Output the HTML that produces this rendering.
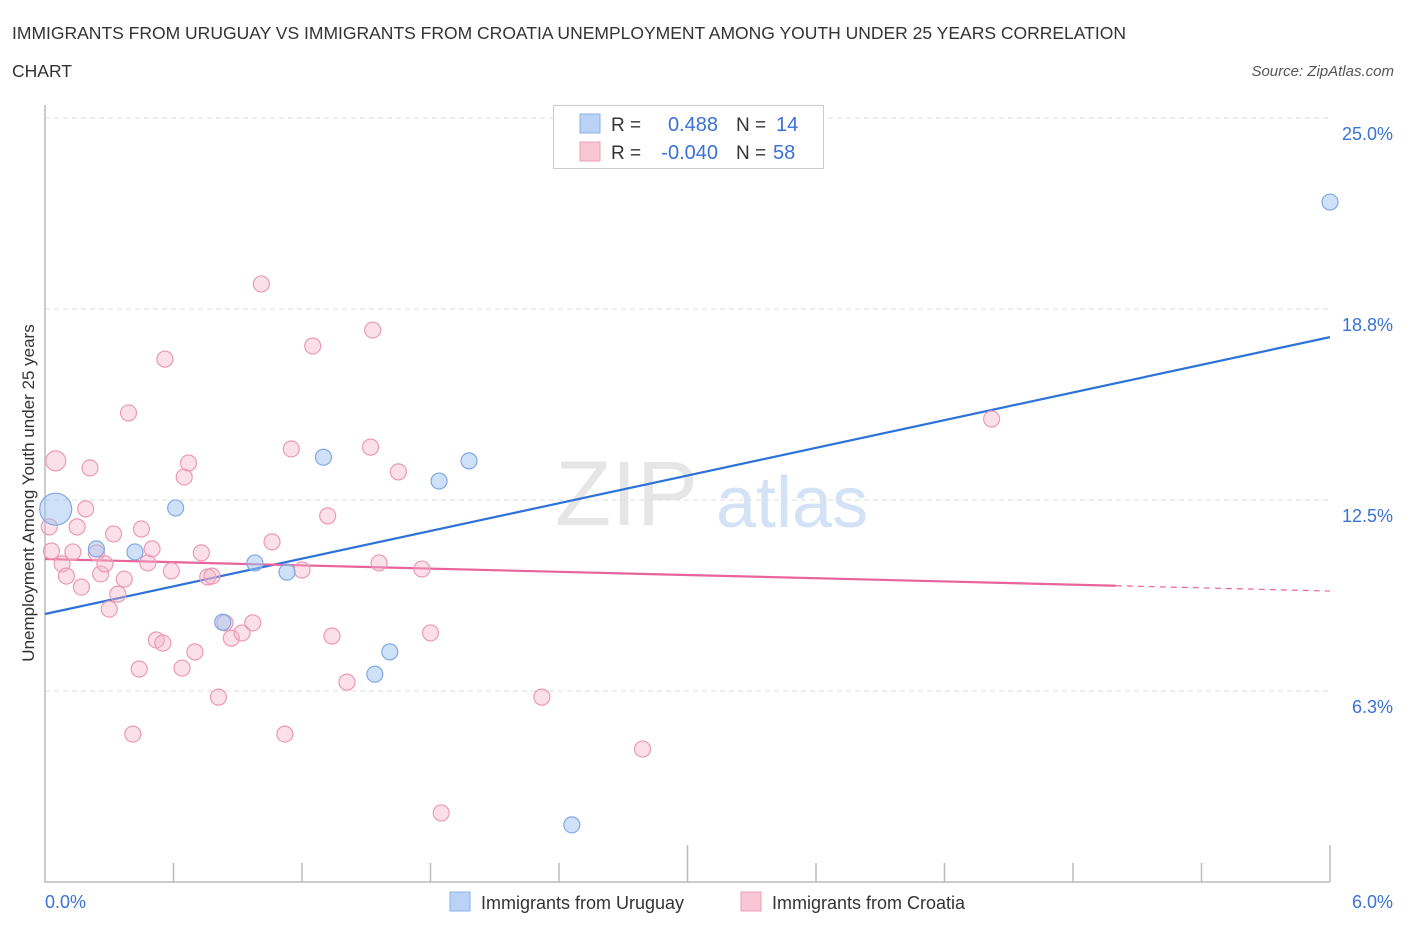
<!DOCTYPE html>
<html><head><meta charset="utf-8"><style>
body{margin:0;background:#fff;font-family:"Liberation Sans",sans-serif;}
svg text{font-family:"Liberation Sans",sans-serif;}
</style></head><body>
<svg id="chart" width="1406" height="930" viewBox="0 0 1406 930" xmlns="http://www.w3.org/2000/svg">
<text x="12" y="39" font-size="17.5" fill="#333">IMMIGRANTS FROM URUGUAY VS IMMIGRANTS FROM CROATIA UNEMPLOYMENT AMONG YOUTH UNDER 25 YEARS CORRELATION</text>
<text x="12" y="77" font-size="17.5" fill="#333">CHART</text>
<text x="1394" y="76" font-size="15" font-style="italic" fill="#555" text-anchor="end">Source: ZipAtlas.com</text>
<g>
<text x="555" y="525" font-size="92" font-family="Liberation Serif" fill="#e6e6e6">ZIP</text>
<text x="716" y="527" font-size="72" fill="#d4e2f5">atlas</text>
</g>
<g id="grid"></g>
<g id="axes"></g>
<g id="lines"></g>
<g id="points"></g>
<text transform="translate(34,493) rotate(-90)" font-size="17" fill="#333" text-anchor="middle">Unemployment Among Youth under 25 years</text>
<g>
<rect x="553.5" y="105.5" width="270" height="63" fill="#fff" stroke="#ccc"/>
<rect x="580" y="114" width="20" height="19" fill="#b9d2f5" stroke="#8ab0e8"/>
<rect x="580" y="142" width="20" height="19" fill="#f9c6d5" stroke="#eba0b8"/>
<text x="611" y="131" font-size="19" fill="#333">R =</text>
<text x="718" y="131" font-size="20" fill="#3a72d6" text-anchor="end">0.488</text>
<text x="736" y="131" font-size="19" fill="#333">N =</text>
<text x="776" y="131" font-size="20" fill="#3a72d6">14</text>
<text x="611" y="159" font-size="19" fill="#333">R =</text>
<text x="718" y="159" font-size="20" fill="#3a72d6" text-anchor="end">-0.040</text>
<text x="736" y="159" font-size="19" fill="#333">N =</text>
<text x="773" y="159" font-size="20" fill="#3a72d6">58</text>
</g>
<g>
<rect x="450" y="892" width="20" height="19" fill="#b9d2f5" stroke="#8ab0e8"/>
<text x="481" y="909" font-size="18" fill="#333">Immigrants from Uruguay</text>
<rect x="741" y="892" width="20" height="19" fill="#f9c6d5" stroke="#eba0b8"/>
<text x="772" y="909" font-size="18" fill="#333">Immigrants from Croatia</text>
</g>
</svg>
<script>
const yTicks=[25.0,18.75,12.5,6.25];
const yTickLabels=["25.0%","18.8%","12.5%","6.3%"];
const xTickLabels=["0.0%","6.0%"];
const uruguayX=[0.05,0.24,0.42,0.61,0.83,0.98,1.13,1.30,1.54,1.61,1.84,1.98,2.46,6.0];
const uruguayY=[12.2,10.9,10.8,12.24,8.5,10.44,10.14,13.9,6.8,7.53,13.12,13.78,1.87,22.25];
const croatiaX=[0.05,0.02,0.03,0.08,0.10,0.13,0.15,0.17,0.19,0.21,0.24,0.26,0.28,0.30,0.32,0.34,0.37,0.39,0.41,0.44,0.45,0.48,0.50,0.52,0.55,0.56,0.59,0.64,0.65,0.67,0.70,0.73,0.76,0.78,0.81,0.84,0.87,0.92,0.97,1.01,1.06,1.12,1.15,1.20,1.25,1.32,1.34,1.41,1.52,1.53,1.56,1.65,1.76,1.80,1.85,2.32,2.79,4.42];
const croatiaY=[13.78,11.62,10.83,10.41,10.01,10.80,11.62,9.65,12.21,13.55,10.77,10.08,10.41,8.93,11.39,9.42,9.91,15.35,4.84,6.97,11.55,10.44,10.90,7.92,7.82,17.11,10.18,7.0,13.25,13.71,7.53,10.77,9.98,10.01,6.05,8.48,7.98,8.15,8.48,19.57,11.13,4.84,14.17,10.21,17.54,11.98,8.05,6.54,14.23,18.06,10.44,13.42,10.24,8.15,2.26,6.05,4.35,15.15];
const uruguayTrend=[8.77,17.83];
const croatiaTrend=[10.57,9.52];
const NS="http://www.w3.org/2000/svg";
const X=v=>45+v*(1285/6);
const Y=v=>882-v*30.56;
function mk(tag,attrs,parent){const e=document.createElementNS(NS,tag);for(const k in attrs)e.setAttribute(k,attrs[k]);document.getElementById(parent).appendChild(e);return e;}
yTicks.forEach((t,i)=>{
 const g=mk('line',{x1:45,x2:1330,y1:Y(t),y2:Y(t),stroke:'#ddd','stroke-dasharray':'5,4'},'grid');
 
 
 const l=mk('text',{x:1393,y:Y(t)+22,'font-size':18,fill:'#3a72d6','text-anchor':'end'},'grid');
 l.textContent=yTickLabels[i];
 
 
});
const ax=mk('path',{d:'M45 105 V882 H1330',fill:'none',stroke:'#bbb','stroke-width':1.5},'axes');


for(let i=1;i<=10;i++){
 const v=i*0.6;const top=(i==5||i==10)?845:863;
 const t=mk('line',{x1:X(v),x2:X(v),y1:top,y2:882,stroke:'#bbb','stroke-width':1.5},'axes');
 
 
}
[[0,45,'start'],[6,1393,'end']].forEach((a,i)=>{
 const t=mk('text',{x:a[1],y:908,'font-size':18,fill:'#3a72d6','text-anchor':a[2]},'axes');
 t.textContent=xTickLabels[i];
 
 
});
const bl=mk('line',{x1:X(0),y1:Y(uruguayTrend[0]),x2:X(6),y2:Y(uruguayTrend[1]),stroke:'#2d72d9','stroke-width':2.2},'lines');


const cEnd=5.0, cAt=v=>croatiaTrend[0]+(croatiaTrend[1]-croatiaTrend[0])*v/6;
const pl=mk('line',{x1:X(0),y1:Y(cAt(0)),x2:X(cEnd),y2:Y(cAt(cEnd)),stroke:'#e8649a','stroke-width':2.2},'lines');


const pd=mk('line',{x1:X(cEnd),y1:Y(cAt(cEnd)),x2:X(6),y2:Y(cAt(6)),stroke:'#e8649a','stroke-width':1.2,'stroke-dasharray':'6,5'},'lines');


croatiaX.forEach((x,i)=>{
 const c=mk('circle',{cx:X(x),cy:Y(croatiaY[i]),r:i==0?10:8,fill:'rgba(246,178,200,0.4)',stroke:'#eb9ab4','stroke-width':1.2},'points');
 
 
});
uruguayX.forEach((x,i)=>{
 const c=mk('circle',{cx:X(x),cy:Y(uruguayY[i]),r:i==0?16:8,fill:'rgba(160,195,242,0.5)',stroke:'#7fa9e6','stroke-width':1.2},'points');
 
 
});
</script>
</body></html>
